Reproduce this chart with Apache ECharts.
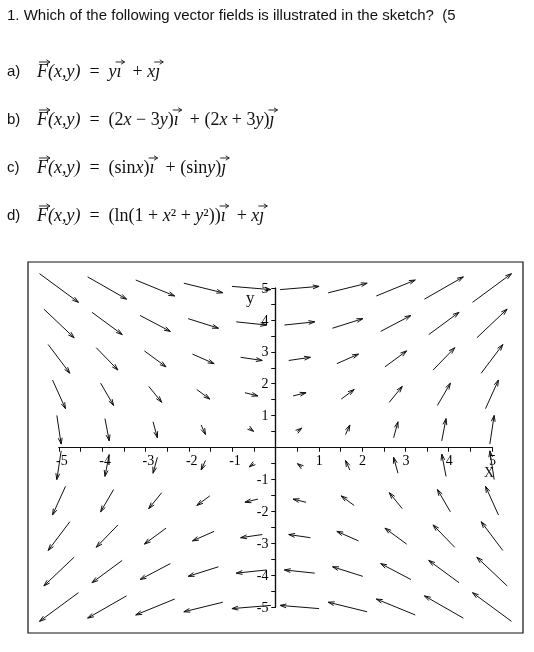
<!DOCTYPE html>
<html>
<head>
<meta charset="utf-8">
<script src="https://cdn.jsdelivr.net/npm/echarts@6/dist/echarts.min.js"></script>
<style>
  html, body { margin: 0; padding: 0; background: #fff; }
  #chart { width: 534px; height: 652px; }
</style>
</head>
<body>
<div id="chart"></div>
<script>
// sample points of the sketch (10 x 10 grid over -5..5)
var gridX = [-5, -3.889, -2.778, -1.667, -0.556, 0.556, 1.667, 2.778, 3.889, 5];
var gridY = [-5, -3.889, -2.778, -1.667, -0.556, 0.556, 1.667, 2.778, 3.889, 5];
// field components read from the arrows: x-part follows the row, y-part the column
var fieldU = gridY;   // horizontal component at each row
var fieldV = gridX;   // vertical component at each column
var arrowScale = 0.18;

var tickLabels = [-5, -4, -3, -2, -1, 1, 2, 3, 4, 5];

var question = '1. Which of the following vector fields is illustrated in the sketch?  (5';
// [text, hasVectorArrow, italic]
var choices = [
    ['a)', [['F', 1, 1], ['(x,y)', 0, 1], ['  =  ', 0, 0], ['y', 0, 1], ['\u0131', 1, 1], ['  + ', 0, 0], ['x', 0, 1], ['\u0237', 1, 1]]],
    ['b)', [['F', 1, 1], ['(x,y)', 0, 1], ['  =  (2', 0, 0], ['x', 0, 1], [' \u2212 3', 0, 0], ['y', 0, 1], [')', 0, 0], ['\u0131', 1, 1], ['  + (2', 0, 0], ['x', 0, 1], [' + 3', 0, 0], ['y', 0, 1], [')', 0, 0], ['\u0237', 1, 1]]],
    ['c)', [['F', 1, 1], ['(x,y)', 0, 1], ['  =  (sin', 0, 0], ['x', 0, 1], [')', 0, 0], ['\u0131', 1, 1], ['  + (sin', 0, 0], ['y', 0, 1], [')', 0, 0], ['\u0237', 1, 1]]],
    ['d)', [['F', 1, 1], ['(x,y)', 0, 1], ['  =  (ln(1 + ', 0, 0], ['x', 0, 1], ['\u00B2 + ', 0, 0], ['y', 0, 1], ['\u00B2))', 0, 0], ['\u0131', 1, 1], ['  + ', 0, 0], ['x', 0, 1], ['\u0237', 1, 1]]]
];

var data = [];
for (var r = 0; r < gridY.length; r++) {
    for (var c = 0; c < gridX.length; c++) {
        data.push([gridX[c], gridY[r], fieldU[r], fieldV[c]]);
    }
}
var xLabelData = tickLabels.map(function (v) { return [v, 0, String(v)]; });
var yLabelData = tickLabels.map(function (v) { return [0, v, String(v)]; });

function renderArrow(params, api) {
    var x = api.value(0), y = api.value(1), u = api.value(2), v = api.value(3);
    var t = api.coord([x - arrowScale * u / 2, y - arrowScale * v / 2]);
    var h = api.coord([x + arrowScale * u / 2, y + arrowScale * v / 2]);
    var ang = Math.atan2(h[1] - t[1], h[0] - t[0]);
    var len = 6.5, spread = 0.3;
    var p1 = [h[0] - len * Math.cos(ang - spread), h[1] - len * Math.sin(ang - spread)];
    var p2 = [h[0] - len * Math.cos(ang + spread), h[1] - len * Math.sin(ang + spread)];
    var st = { stroke: '#111', lineWidth: 1, fill: null };
    return {
        type: 'group',
        children: [
            { type: 'line', shape: { x1: t[0], y1: t[1], x2: h[0], y2: h[1] }, style: st },
            { type: 'polyline', shape: { points: [p1, h, p2] }, style: st }
        ]
    };
}

function renderLabel(pos, off) {
    return function (params, api) {
        var p = api.coord([api.value(0), api.value(1)]);
        return {
            type: 'text', x: p[0] + off[0], y: p[1] + off[1],
            style: { text: tickLabels[params.dataIndex] + '', font: '14px ' + serif, fill: '#000', align: pos[0], verticalAlign: pos[1] }
        };
    };
}

var serif = '"Liberation Serif", "DejaVu Serif", serif';
var sans = '15px "Liberation Sans", Arial, sans-serif';
var graphics = [
    { type: 'text', left: 7, top: 8, style: { text: question, font: sans, fill: '#111' } },
    { type: 'rect', shape: { x: 28, y: 262, width: 495, height: 371 }, style: { fill: null, stroke: '#111', lineWidth: 1.2 } },
    { type: 'text', left: 246, top: 290, style: { text: 'y', font: '17px ' + serif, fill: '#111' } },
    { type: 'text', left: 484, top: 466, style: { text: 'X', font: '14px ' + serif, fill: '#111' } }
];

var ctx = document.createElement('canvas').getContext('2d');
var rowsTop = [63, 111, 159, 207];
choices.forEach(function (ch, i) {
    var top = rowsTop[i];
    graphics.push({ type: 'text', left: 7, top: top + 1, style: { text: ch[0], font: sans, fill: '#111' } });
    var xPos = 37;
    ch[1].forEach(function (seg) {
        var f = (seg[2] ? 'italic ' : '') + '18px ' + serif;
        ctx.font = f;
        var w = ctx.measureText(seg[0]).width;
        graphics.push({ type: 'text', x: xPos, y: top, style: { text: seg[0], font: f, fill: '#111' } });
        if (seg[1]) {
            var small = w < 8;
            var ax0 = xPos + (small ? -1 : 2), ax1 = xPos + (small ? 8 : w + 2), ay = top - 1;
            graphics.push({ type: 'polyline', shape: { points: [[ax0, ay], [ax1, ay]] }, style: { stroke: '#111', lineWidth: 0.9 } });
            graphics.push({ type: 'polyline', shape: { points: [[ax1 - 3.5, ay - 2.2], [ax1, ay], [ax1 - 3.5, ay + 2.2]] }, style: { stroke: '#111', lineWidth: 0.9, fill: null } });
            if (small) w = 7;
        }
        xPos += w;
    });
});

function axisBase(inside) {
    return {
        type: 'value', min: -5, max: 5, interval: 1,
        splitLine: { show: false },
        axisLine: { onZero: true, lineStyle: { color: '#111', width: 1.2 } },
        axisTick: { inside: inside, length: 4, lineStyle: { color: '#111' } },
        minorTick: { show: true, splitNumber: 2, length: 4, lineStyle: { color: '#111' } },
        axisLabel: { show: false }
    };
}

var chart = echarts.init(document.getElementById('chart'));
chart.setOption({
    animation: false,
    backgroundColor: '#fff',
    grid: { left: 59, right: 42, top: 288, bottom: 45 },
    graphic: graphics,
    xAxis: [axisBase(false), axisBase(true)],
    yAxis: [axisBase(false), axisBase(true)],
    series: [{
        type: 'custom',
        renderItem: renderArrow,
        data: data,
        clip: false,
        z: 5
    }, {
        type: 'custom', renderItem: renderLabel(['left', 'top'], [-3, 7]), data: xLabelData, silent: true, z: 6
    }, {
        type: 'custom', renderItem: renderLabel(['right', 'middle'], [-7, 1]), data: yLabelData, silent: true, z: 6
    }]
});
</script>
</body>
</html>
